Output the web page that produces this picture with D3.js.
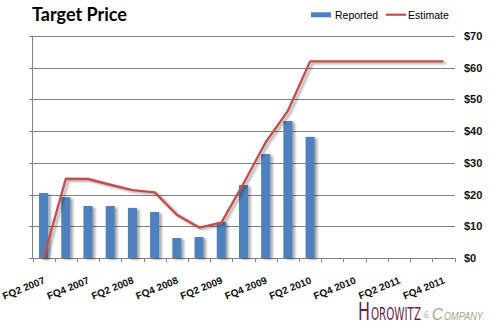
<!DOCTYPE html>
<html>
<head>
<meta charset="utf-8">
<script src="https://cdn.jsdelivr.net/npm/d3@7"></script>
<style>
  html, body { margin: 0; padding: 0; background: #fff; }
  svg { display: block; }
</style>
</head>
<body>
<svg id="chart" width="490" height="332"></svg>
<script>
// Fiscal quarters shown on the x axis
const quarters = [
  "FQ2 2007", "FQ3 2007", "FQ4 2007", "FQ1 2008", "FQ2 2008", "FQ3 2008",
  "FQ4 2008", "FQ1 2009", "FQ2 2009", "FQ3 2009", "FQ4 2009", "FQ1 2010",
  "FQ2 2010", "FQ3 2010", "FQ4 2010", "FQ1 2011", "FQ2 2011", "FQ3 2011",
  "FQ4 2011"
];
// Reported target price (null = not yet reported)
const reported = [20.5, 19.2, 16.4, 16.4, 15.8, 14.5, 6.3, 6.6, 11.4, 23.0, 32.8, 43.2, 38.2,
  null, null, null, null, null, null];
// Estimated target price
const estimate = [0, 25.0, 24.9, 23.1, 21.4, 20.7, 13.6, 9.6, 11.1, 23.5, 36.5, 46.4, 62,
  62, 62, 62, 62, 62, 62];
// Right axis tick values
const priceTicks = [0, 10, 20, 30, 40, 50, 60, 70];

const svg = d3.select("#chart");
const plotLeft = 32.5, plotRight = 454.5, plotTop = 36, plotBottom = 258;

const defs = svg.append("defs");
const shadow = defs.append("filter").attr("id", "shadow")
  .attr("x", "-30%").attr("y", "-10%").attr("width", "180%").attr("height", "130%");
shadow.append("feDropShadow").attr("dx", 2.5).attr("dy", 1.5).attr("stdDeviation", 1.3)
  .attr("flood-color", "#000").attr("flood-opacity", 0.35);

const x = d3.scaleBand().domain(quarters).range([plotLeft, plotRight])
  .paddingInner(0.59).paddingOuter(0.295);
const y = d3.scaleLinear().domain([0, 70]).range([plotBottom, plotTop]);
const cx = q => x(q) + x.bandwidth() / 2;

// Title
svg.append("text").attr("x", 32).attr("y", 21)
  .attr("font-family", "Lato, 'Liberation Sans', sans-serif")
  .attr("font-weight", 700).attr("font-size", 18).attr("fill", "#000")
  .text("Target Price");

// Legend
const lg = svg.append("g").attr("font-family", "'Liberation Sans', Arial, sans-serif")
  .attr("font-size", 10.5).attr("fill", "#000");
lg.append("rect").attr("x", 311).attr("y", 12.3).attr("width", 20).attr("height", 5).attr("fill", "#4f81bd");
lg.append("text").attr("x", 335).attr("y", 18.5).text("Reported");
lg.append("line").attr("x1", 386).attr("x2", 406).attr("y1", 14.7).attr("y2", 14.7)
  .attr("stroke", "#c0504d").attr("stroke-width", 2.2);
lg.append("text").attr("x", 408).attr("y", 18.5).text("Estimate");

// Horizontal gridlines
svg.append("g").selectAll("line").data(priceTicks).join("line")
  .attr("x1", 29).attr("x2", 455)
  .attr("y1", d => Math.round(y(d)) + 0.5).attr("y2", d => Math.round(y(d)) + 0.5)
  .attr("stroke", "#828282").attr("stroke-width", 1);

// Left vertical axis line
svg.append("line").attr("x1", plotLeft).attr("x2", plotLeft).attr("y1", plotTop).attr("y2", plotBottom + 0.5)
  .attr("stroke", "#828282");

// Right-hand price labels
svg.append("g").selectAll("text").data(priceTicks).join("text")
  .attr("x", 464).attr("y", d => y(d) + 4)
  .attr("font-family", "'Liberation Sans', Arial, sans-serif")
  .attr("font-weight", 700).attr("font-size", 11).attr("fill", "#111")
  .text(d => "$" + d);

// X axis tick marks at category boundaries
const bounds = quarters.map(q => x(q) - x.step() * x.paddingInner() / 2).concat([plotRight]);
svg.append("g").selectAll("line").data(bounds).join("line")
  .attr("x1", d => Math.round(d) + 0.5).attr("x2", d => Math.round(d) + 0.5)
  .attr("y1", plotBottom).attr("y2", plotBottom + 4)
  .attr("stroke", "#828282");

// Bars
svg.append("g").attr("filter", "url(#shadow)")
  .selectAll("rect").data(quarters.map((q, i) => ({ q, v: reported[i] })).filter(d => d.v != null))
  .join("rect")
  .attr("x", d => x(d.q)).attr("width", x.bandwidth())
  .attr("y", d => y(d.v)).attr("height", d => y(0) - y(d.v))
  .attr("fill", "#4f81bd");

// Estimate line
const line = d3.line().x((d, i) => cx(quarters[i])).y(d => y(d));
svg.append("path").datum(estimate)
  .attr("d", line).attr("fill", "none")
  .attr("stroke", "#c0504d").attr("stroke-width", 2.4).attr("stroke-linejoin", "round")
  .attr("filter", "url(#shadow)");

// X axis labels on every other quarter
svg.append("g").selectAll("text").data(quarters.filter((q, i) => i % 2 === 0)).join("text")
  .attr("transform", q => `translate(${cx(q) + 2},${283}) rotate(-22)`)
  .attr("text-anchor", "end")
  .attr("font-family", "'Liberation Sans', Arial, sans-serif")
  .attr("font-weight", 700).attr("font-size", 10).attr("fill", "#111")
  .text(q => q);

// Company mark: each piece is squeezed horizontally to a fixed width
const logo = svg.append("g");
function fitted(str, x0, width, baseline, size, family, fill, italic) {
  const t = logo.append("text").attr("x", 0).attr("y", 0)
    .attr("font-family", family).attr("font-size", size).attr("fill", fill)
    .attr("font-style", italic ? "italic" : "normal").text(str);
  const natural = t.node().getComputedTextLength();
  t.attr("transform", `translate(${x0},${baseline}) scale(${width / natural},1)`);
  return t;
}
const narrow = "'Liberation Sans Narrow', 'DejaVu Sans Condensed', sans-serif";
fitted("H", 358, 12, 320, 24, narrow, "#6b1d4c", false);
fitted("OROWITZ", 371, 50, 320, 17, narrow, "#6b1d4c", false);
fitted("&", 423.5, 6, 318, 10, "'DejaVu Serif', serif", "#b7b2a3", true);
fitted("C", 432, 11, 320, 17, "'Liberation Sans', Arial, sans-serif", "#a8a290", true);
fitted("OMPANY", 444, 39, 320, 11, "'Liberation Sans', Arial, sans-serif", "#a8a290", true);
</script>
</body>
</html>
